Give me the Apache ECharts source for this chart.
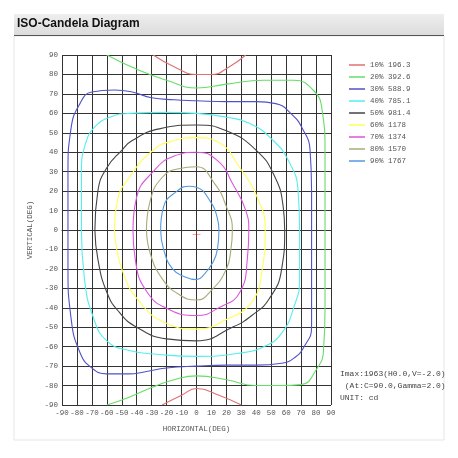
<!DOCTYPE html>
<html><head><meta charset="utf-8">
<script src="https://cdn.jsdelivr.net/npm/echarts@6/dist/echarts.min.js"></script>
<style>html,body{margin:0;padding:0;background:#fff}#c{width:458px;height:458px}</style>
</head><body><div id="c"></div>
<script>
const legendNames = ["10% 196.3","20% 392.6","30% 588.9","40% 785.1","50% 981.4","60% 1178","70% 1374","80% 1570","90% 1767"];
const colors = ["#e07070","#66dd66","#5050c8","#55eeee","#444444","#ffff55","#dd55dd","#aaaa77","#5599dd"];
const c10top = [[-29,90],[-15,84],[0,80],[10,80],[22,84],[33,90]];
const c10bot = [[-23,-90],[-10,-85],[0,-81.5],[15,-85],[30,-90]];
const c20 = [[-60,90],[-38,82],[-20,77],[0,73],[20,75],[45,77],[65,77],[78,72],[84,62],[86,40],[86,0],[86,-40],[85,-62],[80,-72],[70,-79.5],[55,-80],[40,-80],[20,-77],[0,-75],[-15,-77],[-30,-81],[-45,-86],[-60,-90]];
const c30 = [[-86,0],[-86,30],[-84,52],[-78,65],[-70,71],[-55,72],[-43,71],[-30,68],[-15,67],[0,66.5],[20,66],[40,66],[53,65],[63,60],[71,52],[76,41],[77,20],[77,0],[77,-30],[77,-50],[72,-60],[65,-66],[57,-68.5],[40,-69.5],[20,-69.5],[0,-70],[-20,-71],[-35,-73],[-45,-74],[-60,-74],[-70,-71],[-78,-63],[-84,-45],[-86,-20],[-86,0]];
const c40 = [[-77,0],[-77,30],[-74,45],[-68,53],[-58,58],[-45,60],[-20,60.5],[0,60],[20,58],[35,55],[50,47],[62,35],[68,20],[69,0],[69,-25],[65,-40],[57,-53],[45,-60],[27,-63.5],[0,-65],[-25,-64],[-45,-62],[-60,-57],[-69,-45],[-75,-25],[-77,0]];
const c50 = [[-68,0],[-66,20],[-60,32],[-50,41],[-43,46],[-25,52],[0,54],[20,51],[40,41],[52,28],[58,12],[59,0],[57,-20],[49,-35],[37,-44],[24,-50],[0,-57],[-20,-56],[-40,-50],[-52,-42],[-60,-32],[-66,-15],[-68,0]];
const c60 = [[-55,0],[-53,15],[-45,27],[-29,41],[-15,46],[0,47.5],[15,45],[29,32],[40,18],[46,0],[44,-20],[37,-37],[20,-46],[0,-51],[-20,-48],[-38,-37],[-50,-20],[-55,0]];
const c70 = [[-42.5,0],[-40,17],[-29,30],[-15,38],[0,40],[15,35],[24,24],[33,10],[35,0],[34,-15],[29,-32],[15,-40],[0,-44],[-18,-41],[-33,-32],[-41,-15],[-42.5,0]];
const c80 = [[-33.5,0],[-31,15],[-23,27],[-12,31.5],[0,32.5],[12,24],[20,12],[24,0],[23,-10],[20,-20],[10,-31],[0,-36],[-12,-33],[-23,-25],[-31,-12],[-33.5,0]];
const c90 = [[-24,0],[-22,12],[-13,20],[-5,22.5],[0,22],[9,15],[14,6],[15,0],[14,-10],[10.7,-17],[5,-23],[0,-25.5],[-8,-24],[-16,-20],[-22,-10],[-24,0]];
const imaxPoint = [[0,-2]];
const infoLines = ["Imax:1963(H0.0,V=-2.0)"," (At:C=90.0,Gamma=2.0)","UNIT: cd"];

const contours = [[c10top,c10bot],[c20],[c30],[c40],[c50],[c60],[c70],[c80],[c90]];
const series = [];
contours.forEach((parts,i)=>{
  parts.forEach((d,j)=>{
    series.push({type:'line',name:legendNames[i],data:d,smooth:0.5,symbol:'none',
      lineStyle:{color:colors[i],width:1.1},itemStyle:{color:colors[i]},z:3});
  });
});
series.push({type:'scatter',data:imaxPoint,symbol:'path://M0,5L10,5L10,5.8L0,5.8ZM4.6,0L5.4,0L5.4,10L4.6,10Z',symbolSize:8,itemStyle:{color:'#e02020'},z:4});
const mono = 'Liberation Mono, DejaVu Sans Mono, monospace';
const chart = echarts.init(document.getElementById('c'));
chart.setOption({
  animation:false,
  backgroundColor:'#fff',
  graphic:[
    {type:'rect',shape:{x:14,y:14,width:430,height:21},style:{fill:new echarts.graphic.LinearGradient(0,0,0,1,[{offset:0,color:'#eeeeee'},{offset:1,color:'#dcdcdc'}])},z:-10},
    {type:'rect',shape:{x:14,y:35,width:430,height:1},style:{fill:'#555'}},
    {type:'rect',shape:{x:14,y:36,width:430,height:404},style:{fill:'#fff',stroke:'#e6e6e6',lineWidth:1},z:-10},
    {type:'text',left:17,top:18,style:{text:'ISO-Candela Diagram',font:'bold 12px Liberation Sans, Arial',fill:'#111'}},
    {type:'text',left:340,top:368,style:{text:infoLines.join('\n'),font:'8px '+mono,fill:'#444',lineHeight:12}}
  ],
  legend:{orient:'vertical',left:344,top:56,itemWidth:16,itemHeight:1.5,itemGap:4,icon:'rect',
    data:legendNames,textStyle:{fontFamily:mono,fontSize:7.5,color:'#555'}},
  grid:{left:62,right:127,top:55,bottom:53},
  xAxis:{type:'value',min:-90,max:90,interval:10,name:'HORIZONTAL(DEG)',nameLocation:'middle',nameGap:20,
    nameTextStyle:{fontFamily:mono,fontSize:7.5,color:'#555'},
    axisLabel:{fontFamily:mono,fontSize:7.5,color:'#555',margin:4},
    axisLine:{lineStyle:{color:'#333'}},axisTick:{show:false},
    splitLine:{lineStyle:{color:'#333',width:1}}},
  yAxis:{type:'value',min:-90,max:90,interval:10,name:'VERTICAL(DEG)',nameLocation:'middle',nameGap:26,
    nameTextStyle:{fontFamily:mono,fontSize:7.5,color:'#555'},
    axisLabel:{fontFamily:mono,fontSize:7.5,color:'#555',margin:4},
    axisLine:{lineStyle:{color:'#333'}},axisTick:{show:false},
    splitLine:{lineStyle:{color:'#333',width:1}}},
  series:series
});
</script></body></html>
